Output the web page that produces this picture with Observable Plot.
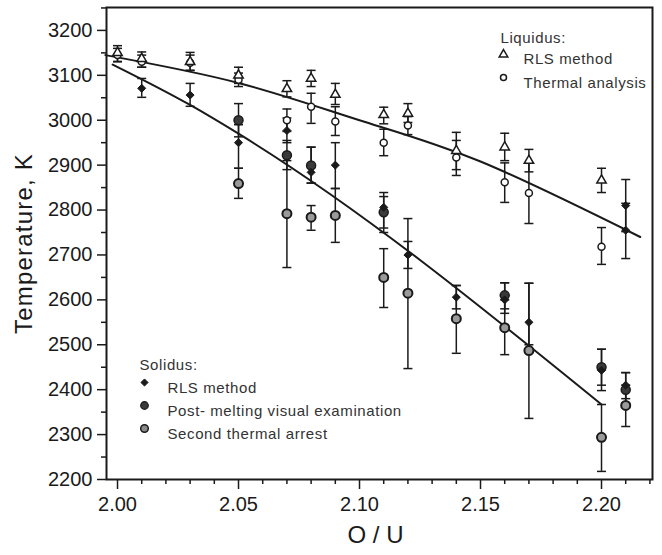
<!DOCTYPE html>
<html><head><meta charset="utf-8">
<script src="https://cdn.jsdelivr.net/npm/d3@7"></script>
<script src="https://cdn.jsdelivr.net/npm/@observablehq/plot@0.6"></script>
<style>body{margin:0;background:#fff} #chart{width:662px;height:555px}</style>
</head><body><div id="chart"></div>
<script>
// Liquidus – RLS method (open triangles)
const liqRlsX  = [2.00, 2.01, 2.03, 2.05, 2.07, 2.08, 2.09, 2.11, 2.12, 2.14, 2.16, 2.17, 2.20];
const liqRlsY  = [3150, 3137, 3130, 3100, 3070, 3093, 3057, 3012, 3015, 2932, 2940, 2910, 2866];
const liqRlsLo = [3131, 3118, 3111, 3082, 3052, 3075, 3035, 2992, 2995, 2890, 2910, 2885, 2839];
const liqRlsHi = [3166, 3152, 3151, 3118, 3088, 3111, 3082, 3029, 3037, 2973, 2971, 2935, 2893];
// Liquidus – thermal analysis (open circles)
const liqTaX  = [2.00, 2.01, 2.03, 2.05, 2.07, 2.08, 2.09, 2.11, 2.12, 2.14, 2.16, 2.17, 2.20];
const liqTaY  = [3145, 3130, 3128, 3090, 3000, 3030, 2997, 2950, 2988, 2917, 2862, 2838, 2718];
const liqTaLo = [3130, 3118, 3111, 3075, 2975, 2993, 2966, 2921, 2968, 2877, 2817, 2770, 2679];
const liqTaHi = [3160, 3145, 3145, 3105, 3025, 3060, 3030, 2980, 3008, 2955, 2905, 2905, 2761];
// Liquidus points at O/U = 2.21 (drawn filled)
const liqExtraX  = [2.21, 2.21];
const liqExtraY  = [2810, 2755];
const liqExtraLo = [2752, 2692];
const liqExtraHi = [2868, 2815];
// Solidus – RLS method
const solRlsX  = [2.01, 2.03, 2.05, 2.07, 2.08, 2.09, 2.11, 2.12, 2.14, 2.16, 2.17, 2.20, 2.21];
const solRlsY  = [3071, 3056, 2950, 2977, 2884, 2900, 2806, 2700, 2606, 2600, 2550, 2443, 2410];
const solRlsLo = [3051, 3031, 2893, 2950, 2860, 2848, 2750, 2670, 2580, 2570, 2500, 2398, 2380];
const solRlsHi = [3093, 3082, 2990, 3005, 2940, 2950, 2839, 2730, 2632, 2638, 2637, 2490, 2438];
// Solidus – post-melting visual examination
const solPmX  = [2.05, 2.07, 2.08, 2.11, 2.16, 2.20, 2.21];
const solPmY  = [3000, 2922, 2899, 2795, 2610, 2450, 2400];
const solPmLo = [2963, 2890, 2860, 2760, 2580, 2410, 2370];
const solPmHi = [3037, 2955, 2940, 2830, 2638, 2490, 2438];
// Solidus – second thermal arrest
const solStaX  = [2.05, 2.07, 2.08, 2.09, 2.11, 2.12, 2.14, 2.16, 2.17, 2.20, 2.21];
const solStaY  = [2859, 2792, 2784, 2788, 2650, 2615, 2558, 2538, 2487, 2294, 2365];
const solStaLo = [2826, 2672, 2755, 2728, 2583, 2447, 2481, 2478, 2336, 2218, 2318];
const solStaHi = [2893, 2910, 2810, 2848, 2714, 2781, 2632, 2600, 2637, 2367, 2410];
// Fitted curves
const liqFitX = [1.995, 2.05, 2.10, 2.15, 2.216];
const liqFitY = [3145, 3083, 3000, 2908, 2740];
const solFitX = [1.998, 2.03, 2.05, 2.20];
const solFitY = [3124, 3034, 2970, 2367];
// Axis ticks
const xMajor = [2.00, 2.05, 2.10, 2.15, 2.20];
const xMinor = [2.01, 2.02, 2.03, 2.04, 2.06, 2.07, 2.08, 2.09, 2.11, 2.12, 2.13, 2.14, 2.16, 2.17, 2.18, 2.19, 2.21, 2.22];
const yMajor = [2200, 2300, 2400, 2500, 2600, 2700, 2800, 2900, 3000, 3100, 3200];
const yMinor = [2250, 2350, 2450, 2550, 2650, 2750, 2850, 2950, 3050, 3150, 3250];

const rows = (xs, ys, lo, hi) => xs.map((x, i) => ({x, y: ys[i], lo: lo[i], hi: hi[i]}));
const liqRls = rows(liqRlsX, liqRlsY, liqRlsLo, liqRlsHi);
const liqTa = rows(liqTaX, liqTaY, liqTaLo, liqTaHi);
const liqExtra = rows(liqExtraX, liqExtraY, liqExtraLo, liqExtraHi);
const solRls = rows(solRlsX, solRlsY, solRlsLo, solRlsHi);
const solPm = rows(solPmX, solPmY, solPmLo, solPmHi);
const solSta = rows(solStaX, solStaY, solStaLo, solStaHi);
const all = [...liqRls, ...liqTa, ...liqExtra, ...solRls, ...solPm, ...solSta];
const liqFit = liqFitX.map((x, i) => ({x, y: liqFitY[i]}));
const solFit = solFitX.map((x, i) => ({x, y: solFitY[i]}));

const cap = {draw(ctx, size) { const w = Math.sqrt(size / Math.PI); ctx.moveTo(-w, 0); ctx.lineTo(w, 0); }};
const ink = "#1a1a1a";
const one = [0];
const legText = (t, dx, dy) => Plot.text(one, {frameAnchor: "top-left", dx, dy, text: () => t, textAnchor: "start", fontSize: 15, fill: "#333"});

const chart = Plot.plot({
  width: 662, height: 555,
  marginLeft: 106, marginTop: 7, marginRight: 10, marginBottom: 76,
  style: {fontFamily: "'Liberation Sans', Arial, sans-serif", background: "white", color: ink},
  x: {domain: [1.99545, 2.22107]},
  y: {domain: [2200, 3251]},
  marks: [
    // error bars
    Plot.ruleX(all, {x: "x", y1: "lo", y2: "hi", stroke: ink, strokeWidth: 1.5}),
    Plot.dot(all, {x: "x", y: "lo", symbol: cap, r: 4.5, stroke: ink, strokeWidth: 1.5, fill: "none"}),
    Plot.dot(all, {x: "x", y: "hi", symbol: cap, r: 4.5, stroke: ink, strokeWidth: 1.5, fill: "none"}),
    // fitted curves
    Plot.line(liqFit, {x: "x", y: "y", curve: "natural", stroke: ink, strokeWidth: 2}),
    Plot.line(solFit, {x: "x", y: "y", curve: "monotone-x", stroke: ink, strokeWidth: 2}),
    // points
    Plot.dot(liqTa, {x: "x", y: "y", r: 3.5, fill: "white", stroke: ink, strokeWidth: 1.5}),
    Plot.dot(liqRls, {x: "x", y: "y", symbol: "triangle", r: 3.5, fill: "white", stroke: ink, strokeWidth: 1.5}),
    Plot.dot(liqExtra, {x: "x", y: "y", symbol: "diamond2", r: 3.6, fill: ink, stroke: ink, strokeWidth: 1}),
    Plot.dot(solSta, {x: "x", y: "y", r: 4.5, fill: "#9a9a9a", stroke: ink, strokeWidth: 2}),
    Plot.dot(solPm, {x: "x", y: "y", r: 4.5, fill: "#3a3a3a", stroke: ink, strokeWidth: 1.5}),
    Plot.dot(solRls, {x: "x", y: "y", symbol: "diamond2", r: 3.6, fill: ink, stroke: ink, strokeWidth: 1}),
    // axes
    Plot.axisY({ticks: yMajor, tickFormat: d3.format("d"), tickSize: 9, tickPadding: 5, fontSize: 20, label: null, stroke: ink, strokeWidth: 1.5}),
    Plot.axisY({ticks: yMinor, tickSize: 5, fill: "none", label: null, stroke: ink, strokeWidth: 1.5}),
    Plot.axisX({ticks: xMajor, tickFormat: d3.format(".2f"), tickSize: 10, tickPadding: 7, fontSize: 20, label: null, stroke: ink, strokeWidth: 1.5}),
    Plot.axisX({ticks: xMinor, tickSize: 5, fill: "none", label: null, stroke: ink, strokeWidth: 1.5}),
    Plot.frame({stroke: ink, strokeWidth: 2}),
    // axis titles
    Plot.text(one, {frameAnchor: "left", dx: -82, text: () => "Temperature, K", textAnchor: "middle", rotate: -90, fontSize: 24, fill: ink}),
    Plot.text(one, {frameAnchor: "bottom", dx: -4, dy: 63, text: () => "O / U", fontSize: 24, fill: ink}),
    // legend – liquidus
    legText("Liquidus:", 394, 25),
    Plot.dot(one, {frameAnchor: "top-left", dx: 397, dy: 47, symbol: "triangle", r: 3.2, fill: "white", stroke: ink, strokeWidth: 1.5}),
    legText("RLS method", 417, 46),
    Plot.dot(one, {frameAnchor: "top-left", dx: 397, dy: 70, r: 3, fill: "white", stroke: ink, strokeWidth: 1.5}),
    legText("Thermal analysis", 417, 70),
    // legend – solidus
    legText("Solidus:", 33, 352),
    Plot.dot(one, {frameAnchor: "top-left", dx: 38, dy: 375, symbol: "diamond2", r: 3.2, fill: ink, stroke: ink, strokeWidth: 1}),
    legText("RLS method", 61, 375),
    Plot.dot(one, {frameAnchor: "top-left", dx: 38, dy: 398, r: 3.8, fill: "#3a3a3a", stroke: ink, strokeWidth: 1.2}),
    legText("Post- melting visual examination", 61, 398),
    Plot.dot(one, {frameAnchor: "top-left", dx: 38, dy: 421, r: 3.8, fill: "#8a8a8a", stroke: ink, strokeWidth: 1.5}),
    legText("Second thermal arrest", 61, 421)
  ]
});
chart.querySelectorAll("text").forEach(t => {
  const fs = parseFloat(t.closest("[font-size]")?.getAttribute("font-size") || 0);
  if (fs === 15) t.setAttribute("letter-spacing", "0.6");
  if (fs === 24 && t.textContent.startsWith("Temp")) t.setAttribute("letter-spacing", "1.2");
});
document.getElementById("chart").append(chart);
</script>
</body></html>
